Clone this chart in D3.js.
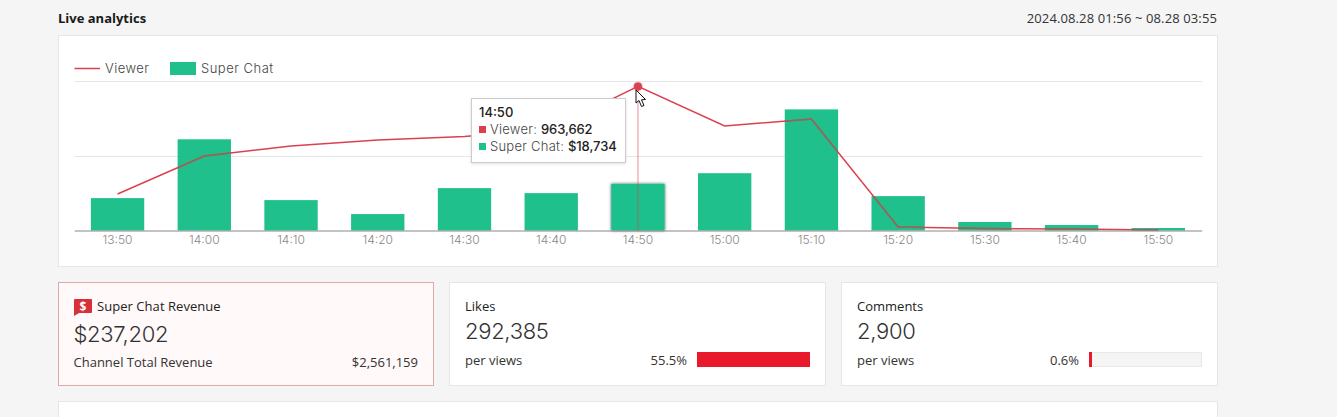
<!DOCTYPE html>
<html><head><meta charset="utf-8">
<script src="https://cdnjs.cloudflare.com/ajax/libs/d3/7.8.5/d3.min.js"></script>
<style>
html,body{margin:0;padding:0;background:#f5f5f5;overflow:hidden}
svg{display:block}
text{font-family:"Inter",sans-serif;fill:#333}
.ui{font-family:"Open Sans",sans-serif}
</style></head><body><svg id="c" width="1337" height="417"></svg>
<script>
const times=["13:50","14:00","14:10","14:20","14:30","14:40","14:50","15:00","15:10","15:20","15:30","15:40","15:50"];
const viewers=[244000,498000,565000,605000,629000,680000,963662,699000,746000,23000,13000,10000,3000];
const superChat=[13000,36600,12200,6600,17000,15000,18734,23000,48600,13800,3400,2200,1000];
const activeIndex=6;
const viewerTicks=[0,500000,1000000];
const cardTitles=["Likes","Comments"];
const cardValues=["292,385","2,900"];
const cardPcts=[55.5,0.6];
const cardPctLabels=["55.5%","0.6%"];

const RED="#dc4050",GREEN="#1fc08c";
const svg=d3.select("#c");
const box=(x,y,w,h,f,s)=>svg.append("rect").attr("x",x+.5).attr("y",y+.5).attr("width",w).attr("height",h).attr("fill",f).attr("stroke",s);
const label=(x,y,t,size,opts={})=>svg.append("text").attr("x",x).attr("y",y).text(t).attr("font-size",size)
  .attr("class",opts.cls||null).attr("text-anchor",opts.anchor||"start").attr("font-weight",opts.weight||400)
  .style("fill",opts.fill||"#333").style("letter-spacing",opts.ls||null);

label(58,23,"Live analytics",13,{cls:"ui",weight:700,fill:"#1a1a1a"});
label(1217,23,"2024.08.28 01:56 ~ 08.28 03:55",13,{cls:"ui",anchor:"end",fill:"#333",ls:"0.12px"});
box(58,35,1159,231,"#fff","#e6e6e6");

const x=d3.scaleBand().domain(times).range([74.2,1201.7]).paddingInner(.385).paddingOuter(.1925);
const yV=d3.scaleLinear().domain([0,1000000]).range([230.5,81]);
const yS=d3.scaleLinear().domain([0,60000]).range([230.5,81]);

const g=svg.append("g");
g.selectAll("line.grid").data(viewerTicks.slice(1)).join("line").attr("class","grid")
 .attr("x1",74.5).attr("x2",1202).attr("y1",d=>Math.round(yV(d))+.5).attr("y2",d=>Math.round(yV(d))+.5).attr("stroke","#e6e6e6");

const defs=svg.append("defs");
const f=defs.append("filter").attr("id","glow").attr("x","-20%").attr("y","-20%").attr("width","140%").attr("height","140%");
f.append("feDropShadow").attr("dx",0).attr("dy",0).attr("stdDeviation",1.5).attr("flood-color","#000").attr("flood-opacity",.7);
const cp=defs.append("clipPath").attr("id","barclip");
cp.selectAll("rect").data(superChat).join("rect")
 .attr("x",(d,i)=>x(times[i])).attr("width",x.bandwidth()).attr("y",d=>yS(d)).attr("height",d=>yS(0)-yS(d));

g.selectAll("rect.bar").data(superChat).join("rect").attr("class","bar")
 .attr("x",(d,i)=>x(times[i])).attr("width",x.bandwidth()).attr("y",d=>yS(d)).attr("height",d=>yS(0)-yS(d))
 .attr("fill",GREEN).attr("filter",(d,i)=>i===activeIndex?"url(#glow)":null);

const cx=i=>x(times[i])+x.bandwidth()/2;
const line=d3.line().x((d,i)=>cx(i)).y(d=>yV(d));
g.append("path").attr("d",line(viewers)).attr("fill","none").attr("stroke",RED).attr("stroke-width",1.5);
g.append("path").attr("d",line(viewers)).attr("fill","none").attr("stroke","#8f6a5c").attr("stroke-width",1.5).attr("clip-path","url(#barclip)");

const axis=d3.axisBottom(x).tickSize(0).tickPadding(5);
const ax=g.append("g").attr("transform","translate(0,230.5)").call(axis);
ax.select(".domain").attr("stroke","#888").attr("stroke-width",1);
ax.selectAll("text").attr("font-size",12).style("fill","#888").style("font-family","Inter,sans-serif").style("font-weight",300);

// pointer
g.append("line").attr("x1",cx(activeIndex)).attr("x2",cx(activeIndex)).attr("y1",yV(viewers[activeIndex])).attr("y2",230.5)
 .attr("stroke",RED).attr("stroke-opacity",.3).attr("stroke-width",2);
g.append("circle").attr("cx",cx(activeIndex)).attr("cy",yV(viewers[activeIndex])).attr("r",4).attr("fill",RED)
 .attr("stroke",RED).attr("stroke-opacity",.3).attr("stroke-width",2);

// legend
svg.append("line").attr("x1",74.5).attr("x2",100).attr("y1",68.5).attr("y2",68.5).attr("stroke",RED).attr("stroke-width",1.5);
label(105,73,"Viewer",13,{fill:"#444",ls:"0.45px",weight:300});
svg.append("rect").attr("x",170).attr("y",62).attr("width",26).attr("height",13).attr("fill",GREEN);
label(201,73,"Super Chat",13,{fill:"#444",ls:"0.5px",weight:300});

// tooltip
const tipF=defs.append("filter").attr("id","ts").attr("x","-10%").attr("y","-10%").attr("width","120%").attr("height","120%");
tipF.append("feDropShadow").attr("dx",0).attr("dy",1).attr("stdDeviation",1.5).attr("flood-color","#000").attr("flood-opacity",.12);
box(471,98,154,64,"#fff","#ccc").attr("filter","url(#ts)");
label(479,117,times[activeIndex],13,{weight:500,fill:"#222"});
svg.append("rect").attr("x",479).attr("y",126).attr("width",7).attr("height",7).attr("fill",RED);
const t1=label(490,134,"Viewer: ",13,{fill:"#444",ls:"0.25px",weight:300});
t1.append("tspan").attr("font-weight",500).style("fill","#222").style("letter-spacing","-0.1px").text(d3.format(",")(viewers[activeIndex]));
svg.append("rect").attr("x",479).attr("y",143).attr("width",7).attr("height",7).attr("fill",GREEN);
const t2=label(490,151,"Super Chat: ",13,{fill:"#444",ls:"0.25px",weight:300});
t2.append("tspan").attr("font-weight",500).style("fill","#222").style("letter-spacing","-0.1px").text("$"+d3.format(",")(superChat[activeIndex]));

// cursor
svg.append("path").attr("d","M636 90 L636 103 L639 100.5 L641.5 106.5 L644 105.5 L641.5 99.8 L645.5 99.5 Z")
 .attr("fill","#fff").attr("stroke","#111").attr("stroke-width",1);

// revenue card
box(58,282,375,103,"#fff9f9","#dfa9a9");
svg.append("path").attr("d","M75 299 H91 Q92 299 92 300 V312 Q92 313 91 313 H79 L74 316 V300 Q74 299 75 299 Z").attr("fill","#d8303a");
label(83,311,"$",12,{cls:"ui",weight:700,anchor:"middle",fill:"#fff"});
label(97,311,"Super Chat Revenue",13,{cls:"ui",fill:"#222",ls:"0.05px"});
label(73.5,342,"$237,202",22,{fill:"#333",weight:300,ls:"-0.3px"});
label(73.5,367,"Channel Total Revenue",13,{cls:"ui",fill:"#333"});
label(418,367,"$2,561,159",13,{cls:"ui",anchor:"end",fill:"#333"});

// two stat cards
const cards=[{x:449,w:376,tx:465,barX:697},{x:841,w:376,tx:857,barX:1089}];
const pctW=d3.scaleLinear().domain([0,55.5]).range([0,113]);
cards.forEach((c,i)=>{
  box(c.x,282,c.w,103,"#fff","#e6e6e6");
  label(c.tx,311,cardTitles[i],13,{cls:"ui",fill:"#222"});
  label(c.tx,339,cardValues[i],22,{fill:"#333",weight:300,ls:"-0.3px"});
  label(c.tx,365,"per views",13,{cls:"ui",fill:"#333"});
  label(c.barX-10,365,cardPctLabels[i],13,{cls:"ui",anchor:"end",fill:"#333"});
  svg.append("rect").attr("x",c.barX+.5).attr("y",352.5).attr("width",112).attr("height",14).attr("fill","#f5f5f5").attr("stroke","#e8e8e8");
  svg.append("rect").attr("x",c.barX).attr("y",352).attr("width",Math.max(pctW(cardPcts[i]),3)).attr("height",15).attr("fill","#e8192a");
});

// next section card
box(58,401,1159,40,"#fff","#e6e6e6");
</script></body></html>
